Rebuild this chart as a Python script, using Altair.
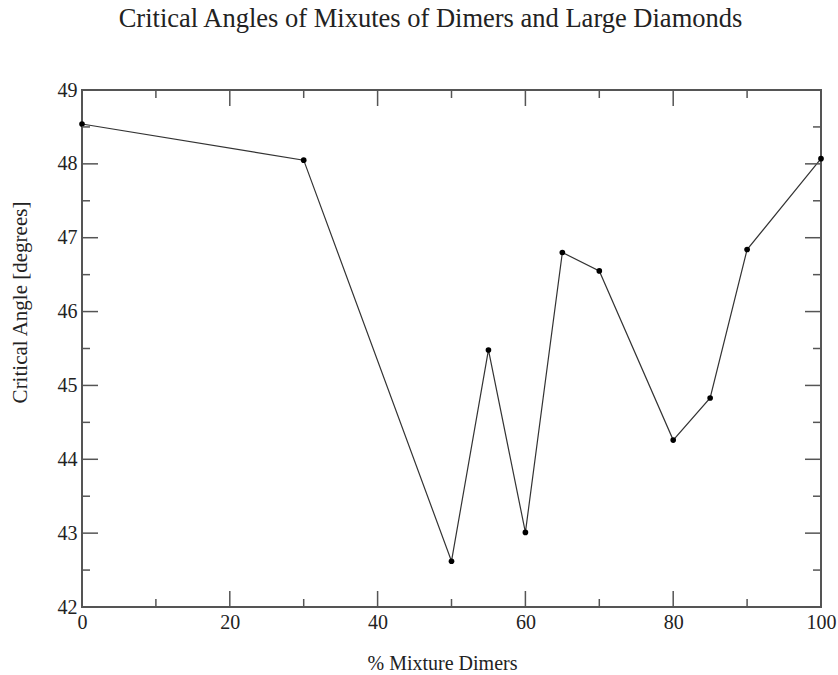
import altair as alt
import pandas as pd

# Measured critical angles for each dimer fraction
mixture_pct = [0, 30, 50, 55, 60, 65, 70, 80, 85, 90, 100]
critical_angle = [48.54, 48.05, 42.62, 45.48, 43.01, 46.80, 46.55, 44.26, 44.83, 46.84, 48.07]

# Tick positions for the boxed frame (ticks drawn pointing inward)
x_major = [0, 20, 40, 60, 80, 100]
x_minor = [10, 30, 50, 70, 90]
y_major = [42, 43, 44, 45, 46, 47, 48, 49]
y_minor = [42.5, 43.5, 44.5, 45.5, 46.5, 47.5, 48.5]

W, H = 739, 517
MAJOR, MINOR = 16, 8
FONT = "Liberation Serif"
INK = "#222222"
FRAME = "#555555"

df = pd.DataFrame({"pct": mixture_pct, "angle": critical_angle})
xs = alt.Scale(domain=[0, 100], nice=False)
ys = alt.Scale(domain=[42, 49], nice=False, zero=False)

x_axis = alt.Axis(
    values=x_major, format="d", ticks=False, domain=False, grid=False,
    labelFlush=False, labelFont=FONT, labelFontSize=20, labelColor=INK,
    labelPadding=5,
    title="% Mixture Dimers", titleFont=FONT, titleFontSize=20,
    titleFontWeight="normal", titleColor=INK, titleX=360, titleY=56,
    titleAlign="center", titleBaseline="middle",
)
y_axis = alt.Axis(
    values=y_major, format="d", ticks=False, domain=False, grid=False,
    labelFlush=False, labelFont=FONT, labelFontSize=20, labelColor=INK,
    labelPadding=5,
    title="Critical Angle [degrees]", titleFont=FONT, titleFontSize=21,
    titleFontWeight="normal", titleColor=INK, titleX=-62, titleY=212,
    titleAngle=-90, titleAlign="center", titleBaseline="middle",
)

line = alt.Chart(df).mark_line(color="#333333", strokeWidth=1.2).encode(
    x=alt.X("pct:Q", scale=xs, axis=x_axis),
    y=alt.Y("angle:Q", scale=ys, axis=y_axis),
)
points = alt.Chart(df).mark_circle(color="black", opacity=1, size=32).encode(
    x=alt.X("pct:Q", scale=xs),
    y=alt.Y("angle:Q", scale=ys),
)


def x_ticks(values, length):
    d = pd.DataFrame({"v": values})
    bottom = alt.Chart(d).mark_rule(color=FRAME, strokeWidth=1.5).encode(
        x=alt.X("v:Q", scale=xs), y=alt.value(H), y2=alt.value(H - length))
    top = alt.Chart(d).mark_rule(color=FRAME, strokeWidth=1.5).encode(
        x=alt.X("v:Q", scale=xs), y=alt.value(0), y2=alt.value(length))
    return [bottom, top]


def y_ticks(values, length):
    d = pd.DataFrame({"v": values})
    left = alt.Chart(d).mark_rule(color=FRAME, strokeWidth=1.5).encode(
        y=alt.Y("v:Q", scale=ys), x=alt.value(0), x2=alt.value(length))
    right = alt.Chart(d).mark_rule(color=FRAME, strokeWidth=1.5).encode(
        y=alt.Y("v:Q", scale=ys), x=alt.value(W), x2=alt.value(W - length))
    return [left, right]


tick_layers = (x_ticks(x_major, MAJOR) + x_ticks(x_minor, MINOR)
               + y_ticks(y_major, MAJOR) + y_ticks(y_minor, MINOR))

chart = alt.layer(line, points, *tick_layers).properties(
    width=W,
    height=H,
    title=alt.TitleParams(
        "Critical Angles of Mixutes of Dimers and Large Diamonds",
        font=FONT, fontSize=26.5, fontWeight="normal", color=INK,
        anchor="middle", dx=-21, offset=27, baseline="alphabetic",
    ),
    autosize=alt.AutoSizeParams(type="none"),
    padding={"left": 82, "top": 90, "right": 17, "bottom": 68},
    background="white",
).configure_view(stroke=FRAME, strokeWidth=2)

chart.save("out.html", embed_options={"renderer": "svg", "actions": False})
